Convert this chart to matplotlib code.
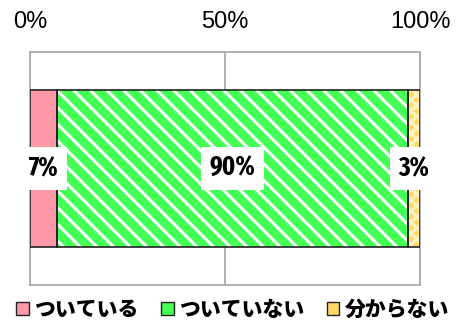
import matplotlib.pyplot as plt
import matplotlib.patches as mpatches

categories = ['ついている', 'ついていない', '分からない']
values = [7, 90, 3]
labels = ['7%', '90%', '3%']
colors = ['#FF99A8', '#44FF55', '#FFD966']
hatch_colors = ['white', 'white', '#FFF2C0']
hatches = [None, '\\\\', 'xxx']
tick_vals = [0, 50, 100]
tick_labels = ['0%', '50%', '100%']

plt.rcParams['font.family'] = ['Noto Sans CJK JP', 'DejaVu Sans']
plt.rcParams['hatch.linewidth'] = 2.2

fig = plt.figure(figsize=(4.65, 3.25), dpi=100)
ax = fig.add_axes([30 / 465, 40 / 325, 390 / 465, 233 / 325])

# stacked bar, hatch drawn in a light colour, outline drawn separately
left = 0
for v, c, hc, h, lab in zip(values, colors, hatch_colors, hatches, labels):
    ax.barh(0, v, left=left, height=0.67, color=c, hatch=h,
            edgecolor=hc, linewidth=0, zorder=3)
    ax.barh(0, v, left=left, height=0.67, fill=False,
            edgecolor='#222222', linewidth=1.2, zorder=4)
    ax.text(left + v / 2, 0, lab, ha='center', va='center', fontsize=19,
            fontweight='bold', family=['Liberation Sans Narrow', 'Fira Sans Extra Condensed'],
            bbox=dict(facecolor='white', edgecolor='none', pad=6), zorder=5)
    left += v

ax.set_xlim(0, 100)
ax.set_ylim(-0.5, 0.5)
ax.set_xticks(tick_vals)
ax.set_xticklabels(tick_labels, fontsize=17, family=['Liberation Sans', 'DejaVu Sans'])
ax.xaxis.tick_top()
ax.tick_params(axis='x', length=0, pad=14)
ax.set_yticks([])
ax.grid(axis='x', color='#A6A6A6', linewidth=1.2, zorder=0)
for s in ax.spines.values():
    s.set_color('#A6A6A6')
    s.set_linewidth(1.2)

handles = [mpatches.Patch(facecolor=c, edgecolor='#222222', linewidth=1)
           for c in colors]
fig.legend(handles, categories, loc='center', bbox_to_anchor=(0.5, 15 / 325),
           ncol=3, frameon=False, handlelength=0.6, handleheight=0.6,
           handletextpad=0.25, columnspacing=1.1,
           prop={'family': 'Noto Sans CJK JP', 'weight': 'heavy', 'size': 15})

fig.savefig('out.png', dpi=100)
